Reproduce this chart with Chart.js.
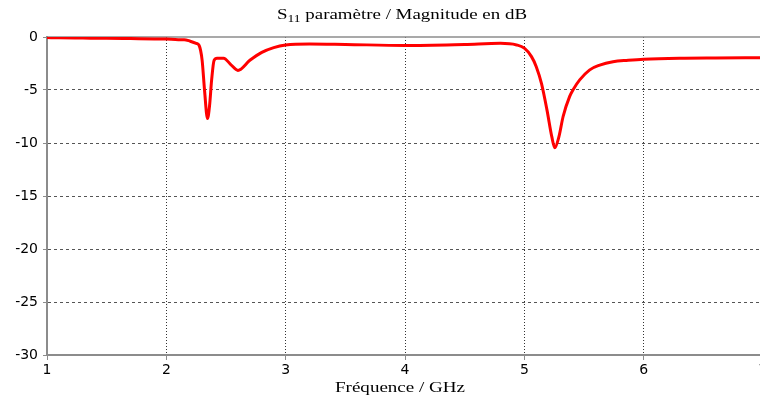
<!DOCTYPE html>
<html>
<head>
<meta charset="utf-8">
<script src="https://cdn.jsdelivr.net/npm/chart.js@4"></script>
<style>
html, body { margin: 0; padding: 0; background: #fff; overflow: hidden; }
</style>
</head>
<body>
<canvas id="chart" width="780" height="399"></canvas>
<script>
// S11 magnitude (GHz / dB)
const freqGHz = [1.0, 1.1, 1.3, 1.5, 1.7, 1.9, 2.0, 2.1, 2.15, 2.2,
  2.25, 2.275, 2.3, 2.32, 2.345, 2.362, 2.38, 2.40, 2.425, 2.48,
  2.54, 2.6, 2.7, 2.8, 2.9, 3.0, 3.2, 3.5, 4.0, 4.5,
  4.8, 4.935, 5.0, 5.06, 5.10, 5.144, 5.19, 5.23, 5.255, 5.29,
  5.325, 5.38, 5.41, 5.464, 5.548, 5.632, 5.743, 5.87, 6.0, 6.3,
  6.6, 7.0]
const s11dB = [-0.05, -0.08, -0.1, -0.12, -0.15, -0.18, -0.2, -0.25, -0.25, -0.4,
  -0.6, -0.8, -2.2, -5.0, -7.7, -6.5, -4.0, -2.2, -2.0, -2.0,
  -2.6, -3.15, -2.2, -1.45, -1.0, -0.75, -0.65, -0.7, -0.8, -0.7,
  -0.6, -0.75, -1.05, -1.85, -2.8, -4.4, -6.9, -9.4, -10.45, -9.4,
  -7.5, -5.6, -4.95, -4.05, -3.1, -2.65, -2.33, -2.2, -2.1, -2.0,
  -1.97, -1.95]

const xTicks = [1, 2, 3, 4, 5, 6, 7]
const yTicks = [0, -5, -10, -15, -20, -25, -30]

const titleParts = [
  { text: 'S', size: 14, dy: 0 },
  { text: '11', size: 10, dy: 3 },
  { text: ' paramètre / Magnitude en dB', size: 14, dy: 0 }
]
const xTitleParts = [{ text: 'Fréquence / GHz', size: 15, dy: 0 }]

const axisGray = '#8c8c8c'

// draws serif text stretched to a given width, like the source image
function drawText(ctx, parts, cx, baseline, targetW) {
  let w = 0
  parts.forEach(p => {
    ctx.font = p.size + 'px "Liberation Serif"'
    p.w = ctx.measureText(p.text).width
    w += p.w
  })
  ctx.save()
  ctx.translate(cx, baseline)
  ctx.scale(targetW / w, 1)
  ctx.fillStyle = '#000'
  ctx.textAlign = 'left'
  ctx.textBaseline = 'alphabetic'
  let x = -w / 2
  parts.forEach(p => {
    ctx.font = p.size + 'px "Liberation Serif"'
    ctx.fillText(p.text, x, p.dy)
    x += p.w
  })
  ctx.restore()
}

const framePlugin = {
  id: 'frame',
  beforeDatasetsDraw(chart) {
    const { ctx, chartArea } = chart
    ctx.save()
    ctx.strokeStyle = axisGray
    ctx.lineWidth = 1.5
    ctx.beginPath()
    ctx.moveTo(chartArea.left, chartArea.top)
    ctx.lineTo(chartArea.right, chartArea.top)
    ctx.stroke()
    ctx.restore()
  },
  afterDraw(chart) {
    const ctx = chart.ctx
    drawText(ctx, titleParts, 402, 19, 250)
    drawText(ctx, xTitleParts, 400, 392, 130)
  }
}

const ctx = document.getElementById('chart').getContext('2d')

new Chart(ctx, {
  type: 'line',
  data: {
    datasets: [{
      data: freqGHz.map((f, i) => ({ x: f, y: s11dB[i] })),
      borderColor: '#ff0000',
      borderWidth: 3,
      pointRadius: 0,
      fill: false,
      cubicInterpolationMode: 'monotone'
    }]
  },
  options: {
    responsive: false,
    animation: false,
    layout: { padding: { top: 37, right: 17, left: 0, bottom: 0 } },
    plugins: { legend: { display: false }, tooltip: { enabled: false } },
    scales: {
      x: {
        type: 'linear',
        min: xTicks[0],
        max: xTicks[xTicks.length - 1],
        afterBuildTicks: s => { s.ticks = xTicks.map(v => ({ value: v })) },
        afterFit: s => { s.height = 44 },
        grid: {
          color: c => (c.tick && c.tick.value === xTicks[0]) ? 'rgba(0,0,0,0)' : '#333',
          tickColor: axisGray,
          tickLength: 5,
          lineWidth: 1
        },
        border: { color: axisGray, width: 2, dash: [1, 2] },
        ticks: {
          color: '#000',
          font: { family: 'DejaVu Sans', size: 14 },
          padding: 2,
          maxRotation: 0,
          autoSkip: false,
          callback: v => String(v)
        }
      },
      y: {
        min: yTicks[yTicks.length - 1],
        max: yTicks[0],
        afterBuildTicks: s => { s.ticks = yTicks.slice().reverse().map(v => ({ value: v })) },
        afterFit: s => { s.width = 47 },
        grid: {
          color: c => (c.tick && (c.tick.value === 0 || c.tick.value === -30)) ? 'rgba(0,0,0,0)' : '#555',
          tickColor: axisGray,
          tickLength: 4,
          lineWidth: 1
        },
        border: { color: axisGray, width: 2, dash: [3, 3] },
        ticks: {
          color: '#000',
          font: { family: 'DejaVu Sans', size: 14 },
          padding: 5,
          autoSkip: false,
          callback: v => String(v)
        }
      }
    }
  },
  plugins: [framePlugin]
})
</script>
</body>
</html>
